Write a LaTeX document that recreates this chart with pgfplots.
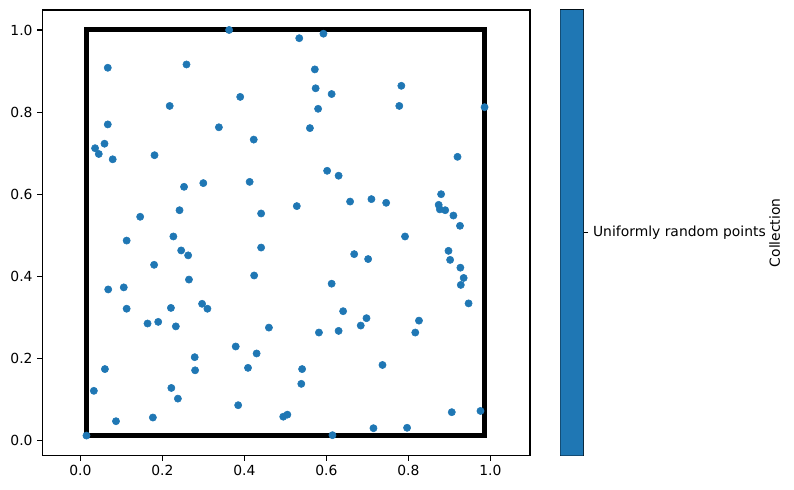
\documentclass[border=0pt]{standalone}
\usepackage{fontspec}
\setmainfont{DejaVu Sans}
\usepackage{pgfplots}
\pgfplotsset{compat=1.18}
\definecolor{tabblue}{HTML}{1F77B4}
\begin{document}
\fontsize{10bp}{12bp}\selectfont
\begin{tikzpicture}
\useasboundingbox (0,0) rectangle (571.68bp,352.8bp);
\pgfplotsset{every axis/.append style={
  scale only axis,
  axis line style={line width=0.8bp, black},
  tick style={line width=0.8bp, black},
  major tick length=3.5bp,
  tick align=outside,
  tick label style={font=\fontsize{10bp}{12bp}\selectfont},
  label style={font=\fontsize{10bp}{12bp}\selectfont},
  /pgf/number format/assume math mode=true,
}}
\begin{axis}[
  at={(30.46bp,24.70bp)}, anchor=south west,
  width=351.14bp, height=320.90bp,
  xmin=-0.0927, xmax=1.0968, ymin=-0.037, ymax=1.0487,
  tick pos=left,
  xtick={0,0.2,0.4,0.6,0.8,1.0},
  ytick={0,0.2,0.4,0.6,0.8,1.0},
  xticklabel style={/pgf/number format/.cd, fixed, fixed zerofill, precision=1},
  yticklabel style={/pgf/number format/.cd, fixed, fixed zerofill, precision=1},
]
\addplot[black, line width=3.6bp, line join=miter] coordinates {
(0.5,0.012)(0.986,0.012)(0.986,1.0)(0.015,1.0)(0.015,0.012)(0.5,0.012)};
\addplot[only marks, mark=*, mark size=2.6bp, mark options={fill=tabblue, draw=tabblue}] table {
x y
0.363 1.000
0.067 0.908
0.259 0.916
0.390 0.837
0.218 0.815
0.067 0.770
0.338 0.763
0.423 0.733
0.059 0.723
0.036 0.712
0.045 0.698
0.079 0.685
0.181 0.695
0.253 0.618
0.300 0.627
0.413 0.630
0.242 0.561
0.146 0.545
0.441 0.553
0.227 0.497
0.534 0.980
0.593 0.991
0.572 0.904
0.574 0.858
0.613 0.844
0.580 0.808
0.783 0.864
0.778 0.815
0.986 0.812
0.560 0.761
0.920 0.691
0.602 0.657
0.630 0.645
0.528 0.571
0.658 0.582
0.710 0.588
0.746 0.579
0.880 0.600
0.874 0.574
0.877 0.563
0.890 0.561
0.910 0.548
0.926 0.523
0.792 0.497
0.113 0.487
0.246 0.463
0.263 0.451
0.441 0.470
0.180 0.428
0.424 0.402
0.265 0.392
0.068 0.368
0.106 0.373
0.113 0.321
0.221 0.323
0.297 0.333
0.310 0.321
0.164 0.285
0.190 0.289
0.233 0.278
0.460 0.275
0.379 0.229
0.430 0.212
0.279 0.203
0.280 0.171
0.409 0.177
0.060 0.174
0.033 0.121
0.222 0.128
0.238 0.102
0.385 0.086
0.087 0.047
0.177 0.056
0.495 0.058
0.505 0.063
0.015 0.012
0.898 0.462
0.902 0.440
0.927 0.421
0.935 0.396
0.928 0.379
0.947 0.334
0.668 0.454
0.702 0.442
0.613 0.382
0.641 0.315
0.698 0.298
0.684 0.280
0.582 0.263
0.630 0.267
0.826 0.292
0.817 0.263
0.737 0.184
0.541 0.174
0.539 0.138
0.906 0.069
0.976 0.072
0.715 0.030
0.797 0.031
0.615 0.013
};
\end{axis}
\begin{axis}[
  at={(403.42bp,24.70bp)}, anchor=south west,
  width=16.56bp, height=320.90bp,
  xmin=0, xmax=1, ymin=0, ymax=1,
  xtick=\empty,
  ytick={0.5}, yticklabels={Uniformly random points},
  yticklabel pos=right, ytick pos=right,
  ylabel={Collection},
  ylabel style={at={(ticklabel cs:0.5,-4.3bp)}},
]
\addplot[fill=tabblue, draw=none] coordinates {(0,0)(0,1)(1,1)(1,0)} \closedcycle;
\end{axis}
\end{tikzpicture}
\end{document}
